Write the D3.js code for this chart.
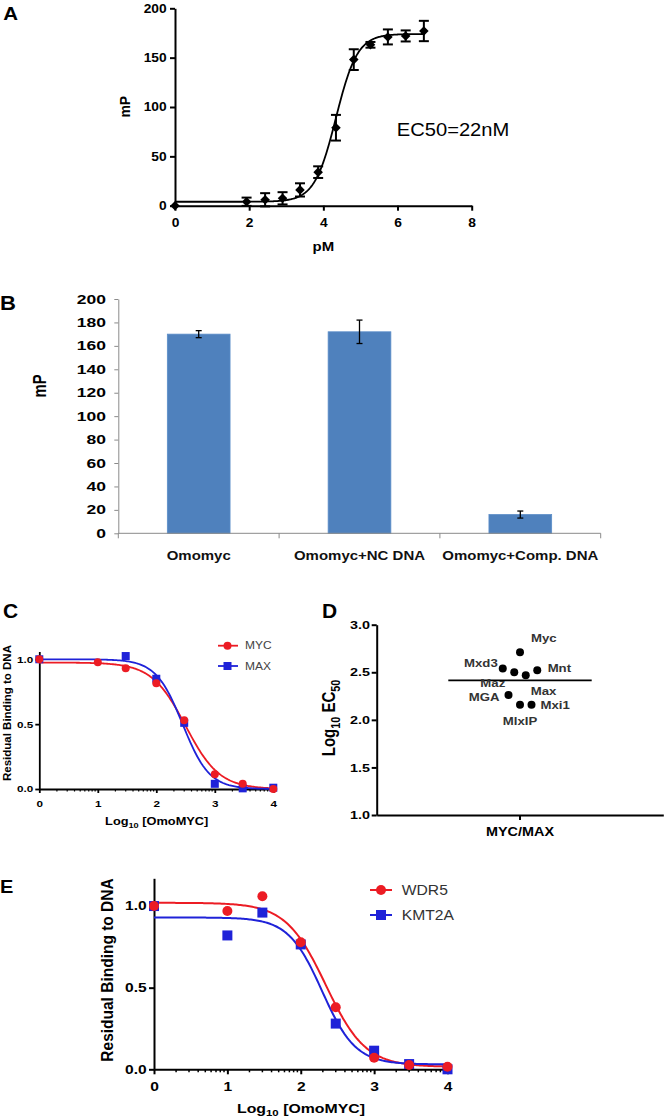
<!DOCTYPE html>
<html><head><meta charset="utf-8">
<script src="https://cdn.jsdelivr.net/npm/d3@7"></script>
<style>body{margin:0;background:#fff}svg{display:block;background:#fff}text{font-family:"Liberation Sans",Arial,sans-serif}</style>
</head><body><svg id="fig" width="666" height="1119"></svg>
<script>
// ===== DATA =====
// Panel A: fluorescence polarisation titration
const aDoseLog = [0, 1.93, 2.43, 2.90, 3.37, 3.86, 4.34, 4.82, 5.27, 5.74, 6.22, 6.71];
const aMP      = [0, 4, 6, 7.5, 16, 34, 79, 148, 163, 171, 172, 177];
const aErr     = [0, 4.2, 6.7, 6.2, 6.7, 5.9, 13, 10.5, 2.9, 7.6, 5.6, 10.3];
const aFit     = [4, 174, 4.34, 1.5];          // bottom, top, logEC50, hill
const aXTicks  = [0, 2, 4, 6, 8];
const aYTicks  = [0, 50, 100, 150, 200];
const aNote    = "EC50=22nM";

// Panel B: bar chart
const bCats   = ["Omomyc", "Omomyc+NC DNA", "Omomyc+Comp. DNA"];
const bMP     = [170, 172, 16];
const bErr    = [3, 10, 3];
const bYTicks = [0, 20, 40, 60, 80, 100, 120, 140, 160, 180, 200];

// Panel C: competition curves
const cDoseLog = [0, 1, 1.477, 2, 2.477, 3, 3.477, 4];
const cMYC     = [1.0, 0.977, 0.93, 0.815, 0.53, 0.113, 0.04, 0.0];
const cMAXDose = [0, 1.477, 2, 2.477, 3, 3.477, 4];
const cMAX     = [1.0, 1.025, 0.85, 0.51, 0.04, 0.005, 0.01];
const cFitMYC  = [0, 0.975, 2.50, -1.5];
const cFitMAX  = [0, 1.0, 2.45, -1.9];
const cXTicks  = [0, 1, 2, 3, 4];
const cYTicks  = [0, 0.5, 1.0];
const cSeries  = ["MYC", "MAX"];

// Panel D: log10 EC50 per partner
const dNames   = ["Myc", "Mxd3", "Maz", "Max", "Mnt", "MGA", "MlxIP", "Mxi1"];
const dLogEC50 = [2.71, 2.54, 2.50, 2.47, 2.52, 2.26, 2.16, 2.16];
const dJitter  = [0, -1.5, -0.5, 0.5, 1.5, -1, 0, 1];
const dLabelOff = [[11,-10.7,"start"],[-5,-1.7,"end"],[-9,14.7,"end"],[5,20,"start"],[10.4,1.3,"start"],[-9,6.3,"end"],[0,20.7,"middle"],[9,4.7,"start"]];
const dCategory = ["MYC/MAX"];
const dYTicks  = [1.0, 1.5, 2.0, 2.5, 3.0];

// Panel E
const eDoseLog = [0, 1, 1.477, 2, 2.477, 3, 3.477, 4];
const eWDR5    = [1.0, 0.97, 1.06, 0.778, 0.38, 0.071, 0.026, 0.016];
const eKMT2A   = [1.0, 0.82, 0.96, 0.765, 0.28, 0.114, 0.032, 0.0];
const eFitWDR5 = [0.015, 1.02, 2.34, -1.6];
const eFitKMT2A= [0.03, 0.93, 2.29, -1.9];
const eXTicks  = [0, 1, 2, 3, 4];
const eYTicks  = [0, 0.5, 1.0];
const eSeries  = ["WDR5", "KMT2A"];

// ===== HELPERS =====
const RED = "#ec1c24", BLUE = "#1f22d8";
const svg = d3.select("#fig");
svg.append("rect").attr("width",666).attr("height",1119).attr("fill","#fff");

function fit4(p){ const [b,t,ec,h]=p; return x => b + (t-b)/(1+Math.pow(10,(ec-x)*h)); }

function txt(g, x, y, parts, o={}) {
  const s = o.sx || 1, size = o.size || 12;
  const t = g.append("text")
    .attr("transform", o.rotate ? `translate(${x},${y}) rotate(-90) scale(1,${s})` : `translate(${x},${y}) scale(${s},1)`)
    .attr("font-size", size)
    .attr("font-weight", o.bold ? "bold" : "normal")
    .attr("fill", o.fill || "#000")
    .attr("text-anchor", o.anchor || "start");
  if (o.dy) t.attr("dy", o.dy);
  if (typeof parts === "string") parts = [parts];
  let shift = 0;
  parts.forEach(p => {
    if (typeof p === "string") {
      t.append("tspan").attr("dy", -shift).text(p); shift = 0;
    } else {
      const d = size*0.28;
      t.append("tspan").attr("font-size", size*0.72).attr("dy", d - shift).text(p.sub); shift = d;
    }
  });
  return t;
}

function styleAxis(g, o) {
  const stroke = o.stroke || "#000", w = o.width || 2, s = o.sx || 1;
  g.attr("font-family", null).attr("font-size", null);
  g.select(".domain").attr("stroke", stroke).attr("stroke-width", w);
  g.selectAll(".tick line").attr("stroke", stroke).attr("stroke-width", w);
  g.selectAll(".tick text").attr("font-size", o.size).attr("font-weight", "bold").attr("fill", "#000")
    .each(function(){ const t=d3.select(this); const x=+t.attr("x")||0; t.attr("x", x/s).attr("transform", `scale(${s},1)`); });
}

function logMinor(g, x, y0, n, len, w) {
  const m = [];
  for (let i=0;i<n;i++) for (let k=2;k<=9;k++) m.push(i+Math.log10(k));
  g.append("g").selectAll("line").data(m).join("line")
    .attr("x1", d=>x(d)).attr("x2", d=>x(d)).attr("y1", y0).attr("y2", y0+len)
    .attr("stroke","#000").attr("stroke-width", w);
}

// ===== PANEL A =====
{
  const g = svg.append("g");
  const x = d3.scaleLinear().domain([0,8]).range([175,471.7]);
  const y = d3.scaleLinear().domain([0,200]).range([205.7,8.3]);
  styleAxis(g.append("g").attr("transform",`translate(0,${y(0)})`)
    .call(d3.axisBottom(x).tickValues(aXTicks).tickSize(5).tickSizeOuter(0).tickPadding(8)), {size:12, sx:1.15});
  styleAxis(g.append("g").attr("transform",`translate(${x(0)},0)`)
    .call(d3.axisLeft(y).tickValues(aYTicks).tickSize(5).tickSizeOuter(0).tickPadding(3.3)), {size:12, sx:1.15});
  const f = fit4(aFit);
  g.append("path").datum(d3.range(0, 6.76, 0.02))
    .attr("d", d3.line().x(d=>x(d)).y(d=>y(f(d)))).attr("fill","none").attr("stroke","#000").attr("stroke-width",1.8);
  const pts = aDoseLog.map((d,i)=>({x:d, v:aMP[i], e:aErr[i]}));
  const eb = g.append("g").attr("stroke","#000").attr("stroke-width",2);
  pts.filter(p=>p.e>0).forEach(p=>{
    eb.append("line").attr("x1",x(p.x)).attr("x2",x(p.x)).attr("y1",y(p.v-p.e)).attr("y2",y(p.v+p.e));
    [p.v-p.e,p.v+p.e].forEach(v=>eb.append("line").attr("x1",x(p.x)-5).attr("x2",x(p.x)+5).attr("y1",y(v)).attr("y2",y(v)));
  });
  g.append("g").selectAll("path").data(pts).join("path")
    .attr("d", d3.symbol(d3.symbolSquare, 46))
    .attr("transform", d=>`translate(${x(d.x)},${y(d.v)}) rotate(45)`).attr("fill","#000");
  txt(g, 323.3, 251, "pM", {size:13, bold:true, sx:1.15, anchor:"middle"});
  txt(g, 130, 106.7, "mP", {size:14, bold:true, sx:1.1, anchor:"middle", rotate:true, dy:"0.36em"});
  txt(g, 396.7, 135.5, aNote, {size:18, sx:1.12});
  txt(g, 3.3, 20, "A", {size:18.6, bold:true, sx:1.1});
}

// ===== PANEL B =====
{
  const g = svg.append("g");
  const x = d3.scaleBand().domain(bCats).range([118.3, 600.7]).paddingInner(0.61).paddingOuter(0.305);
  const y = d3.scaleLinear().domain([0,200]).range([533.3, 299]);
  styleAxis(g.append("g").attr("transform",`translate(${x.range()[0]},0)`)
    .call(d3.axisLeft(y).tickValues(bYTicks).tickSize(4).tickSizeOuter(0).tickPadding(8.3)), {size:12.5, sx:1.4, stroke:"#8a8a8a", width:1});
  g.selectAll("rect.bar").data(bCats).join("rect").attr("class","bar")
    .attr("x", d=>x(d)).attr("width", x.bandwidth())
    .attr("y", (d,i)=>y(bMP[i])).attr("height", (d,i)=>y(0)-y(bMP[i]))
    .attr("fill","#4f81bd").attr("stroke","#5b8dc8").attr("stroke-width",0.8);
  const xa = g.append("g").attr("transform",`translate(0,${y(0)})`);
  xa.append("line").attr("x1",x.range()[0]).attr("x2",x.range()[1]).attr("stroke","#8a8a8a").attr("stroke-width",1);
  xa.selectAll("line.t").data(d3.range(bCats.length+1)).join("line").attr("class","t")
    .attr("x1",i=>x.range()[0]+i*x.step()).attr("x2",i=>x.range()[0]+i*x.step())
    .attr("y1",0).attr("y2",5).attr("stroke","#8a8a8a").attr("stroke-width",1);
  bCats.forEach(c => txt(g, x(c)+x.bandwidth()/2, 560, c, {size:13.5, bold:true, sx:1.11, anchor:"middle", fill:"#111"}));
  const eb = g.append("g").attr("stroke","#000").attr("stroke-width",1.3);
  bCats.forEach((c,i)=>{
    const cx = x(c)+x.bandwidth()/2;
    eb.append("line").attr("x1",cx).attr("x2",cx).attr("y1",y(bMP[i]-bErr[i])).attr("y2",y(bMP[i]+bErr[i]));
    [bMP[i]-bErr[i], bMP[i]+bErr[i]].forEach(v=>eb.append("line").attr("x1",cx-3).attr("x2",cx+3).attr("y1",y(v)).attr("y2",y(v)));
  });
  txt(g, 46, 386, "mP", {size:14.8, bold:true, sx:1.3, anchor:"middle", rotate:true, dy:"0.36em"});
  txt(g, 0, 310, "B", {size:21, bold:true, sx:1.05});
}

// ===== curve panel helper (C & E) =====
function curvePanel(g, x, y, doses, series, fits, o) {
  fits.forEach((p,i)=>{
    const f = fit4(p);
    g.append("path").datum(d3.range(0, 4.001, 0.02))
      .attr("d", d3.line().x(d=>x(d)).y(d=>y(f(d)))).attr("fill","none")
      .attr("stroke", [RED,BLUE][i]).attr("stroke-width", o.lw);
  });
  g.append("g").selectAll("rect").data(doses[1].map((d,i)=>[d, series[1][i]])).join("rect")
    .attr("x", d=>x(d[0])-o.sq/2).attr("y", d=>y(d[1])-o.sq/2).attr("width",o.sq).attr("height",o.sq).attr("fill",BLUE);
  g.append("g").selectAll("circle").data(doses[0].map((d,i)=>[d, series[0][i]])).join("circle")
    .attr("cx", d=>x(d[0])).attr("cy", d=>y(d[1])).attr("r",o.r).attr("fill",RED);
}

// ===== PANEL C =====
{
  const g = svg.append("g");
  const x = d3.scaleLinear().domain([0,4]).range([39.3,273.3]);
  const y = d3.scaleLinear().domain([0,1.06]).range([789,651.5]);
  logMinor(g, x, y(0), 4, 2.5, 1.2);
  styleAxis(g.append("g").attr("transform",`translate(0,${y(0)})`)
    .call(d3.axisBottom(x).tickValues(cXTicks).tickFormat(d3.format("d")).tickSize(4).tickSizeOuter(0).tickPadding(7.8)), {size:9, sx:1.3, width:1.8});
  styleAxis(g.append("g").attr("transform",`translate(${x(0)},0)`)
    .call(d3.axisLeft(y).tickValues(cYTicks).tickFormat(d3.format(".1f")).tickSize(4).tickSizeOuter(0).tickPadding(2)), {size:9, sx:1.3, width:1.8});
  curvePanel(g, x, y, [cDoseLog, cMAXDose], [cMYC, cMAX], [cFitMYC, cFitMAX], {lw:1.8, r:4, sq:8});
  cSeries.forEach((s,i)=>{
    const ly = 645.7 + i*20.3, col = [RED,BLUE][i];
    g.append("line").attr("x1",218).attr("x2",238).attr("y1",ly).attr("y2",ly).attr("stroke",col).attr("stroke-width",1.8);
    if (i===0) g.append("circle").attr("cx",227.5).attr("cy",ly).attr("r",4).attr("fill",col);
    else g.append("rect").attr("x",223.5).attr("y",ly-4).attr("width",8).attr("height",8).attr("fill",col);
    txt(g, 245, ly+3.6, s, {size:10, sx:1.2, fill:"#444"});
  });
  txt(g, 156.7, 825, ["Log",{sub:"10"}," [OmoMYC]"], {size:10, bold:true, sx:1.28, anchor:"middle"});
  txt(g, 10.5, 713, "Residual Binding to DNA", {size:11.5, bold:true, sx:0.95, anchor:"middle", rotate:true, dy:"0.36em"});
  txt(g, 3, 618, "C", {size:20, bold:true, sx:1.05});
}

// ===== PANEL D =====
{
  const g = svg.append("g");
  const x = d3.scaleBand().domain(dCategory).range([376.7, 663.3]);
  const y = d3.scaleLinear().domain([1,3]).range([815,624.7]);
  styleAxis(g.append("g").attr("transform",`translate(0,${y(1)})`)
    .call(d3.axisBottom(x).tickSize(5).tickSizeOuter(0).tickPadding(7.5)), {size:12, sx:1.2});
  styleAxis(g.append("g").attr("transform",`translate(${x.range()[0]},0)`)
    .call(d3.axisLeft(y).tickValues(dYTicks).tickFormat(d3.format(".1f")).tickSize(5).tickSizeOuter(0).tickPadding(1.7)), {size:11.5, sx:1.25});
  const cx = x(dCategory[0]) + x.bandwidth()/2;
  const mean = d3.mean(dLogEC50);
  g.append("line").attr("x1",cx-71.7).attr("x2",cx+71.7).attr("y1",y(mean)).attr("y2",y(mean)).attr("stroke","#000").attr("stroke-width",1.8);
  dNames.forEach((n,i)=>{
    const px = cx + dJitter[i]*11.5, py = y(dLogEC50[i]);
    const [dx,dy,anc] = dLabelOff[i];
    txt(g, px+dx, py+dy, n, {size:11, bold:true, sx:1.2, anchor:anc, fill:"#333"});
  });
  g.append("g").selectAll("circle").data(dLogEC50).join("circle")
    .attr("cx",(d,i)=>cx + dJitter[i]*11.5).attr("cy",d=>y(d)).attr("r",4).attr("fill","#000");
  txt(g, 335, 718, ["Log",{sub:"10"}," EC",{sub:"50"}], {size:15, bold:true, sx:1.2, anchor:"middle", rotate:true, dy:"0.36em"});
  txt(g, 322, 618, "D", {size:20, bold:true, sx:1.05});
}

// ===== PANEL E =====
{
  const g = svg.append("g");
  const x = d3.scaleLinear().domain([0,4]).range([154,447.5]);
  const y = d3.scaleLinear().domain([0,1.17]).range([1069.3,878.3]);
  logMinor(g, x, y(0), 4, 3, 1.5);
  styleAxis(g.append("g").attr("transform",`translate(0,${y(0)})`)
    .call(d3.axisBottom(x).tickValues(eXTicks).tickFormat(d3.format("d")).tickSize(5).tickSizeOuter(0).tickPadding(8.2)), {size:12, sx:1.3});
  styleAxis(g.append("g").attr("transform",`translate(${x(0)},0)`)
    .call(d3.axisLeft(y).tickValues(eYTicks).tickFormat(d3.format(".1f")).tickSize(5).tickSizeOuter(0).tickPadding(2.3)), {size:12, sx:1.3});
  curvePanel(g, x, y, [eDoseLog, eDoseLog], [eWDR5, eKMT2A], [eFitWDR5, eFitKMT2A], {lw:2, r:5, sq:10});
  eSeries.forEach((s,i)=>{
    const ly = 890 + i*25, col = [RED,BLUE][i];
    g.append("line").attr("x1",370).attr("x2",392).attr("y1",ly).attr("y2",ly).attr("stroke",col).attr("stroke-width",2);
    if (i===0) g.append("circle").attr("cx",381).attr("cy",ly).attr("r",5).attr("fill",col);
    else g.append("rect").attr("x",376).attr("y",ly-5).attr("width",10).attr("height",10).attr("fill",col);
    txt(g, 401.7, ly+5, s, {size:14, sx:1.12, fill:"#333"});
  });
  txt(g, 301, 1112.6, ["Log",{sub:"10"}," [OmoMYC]"], {size:13, bold:true, sx:1.22, anchor:"middle"});
  txt(g, 113, 970, "Residual Binding to DNA", {size:15.5, bold:true, sx:1.1, anchor:"middle", rotate:true, dy:"0.36em"});
  txt(g, 0, 893, "E", {size:19, bold:true, sx:1.05});
}
</script></body></html>
